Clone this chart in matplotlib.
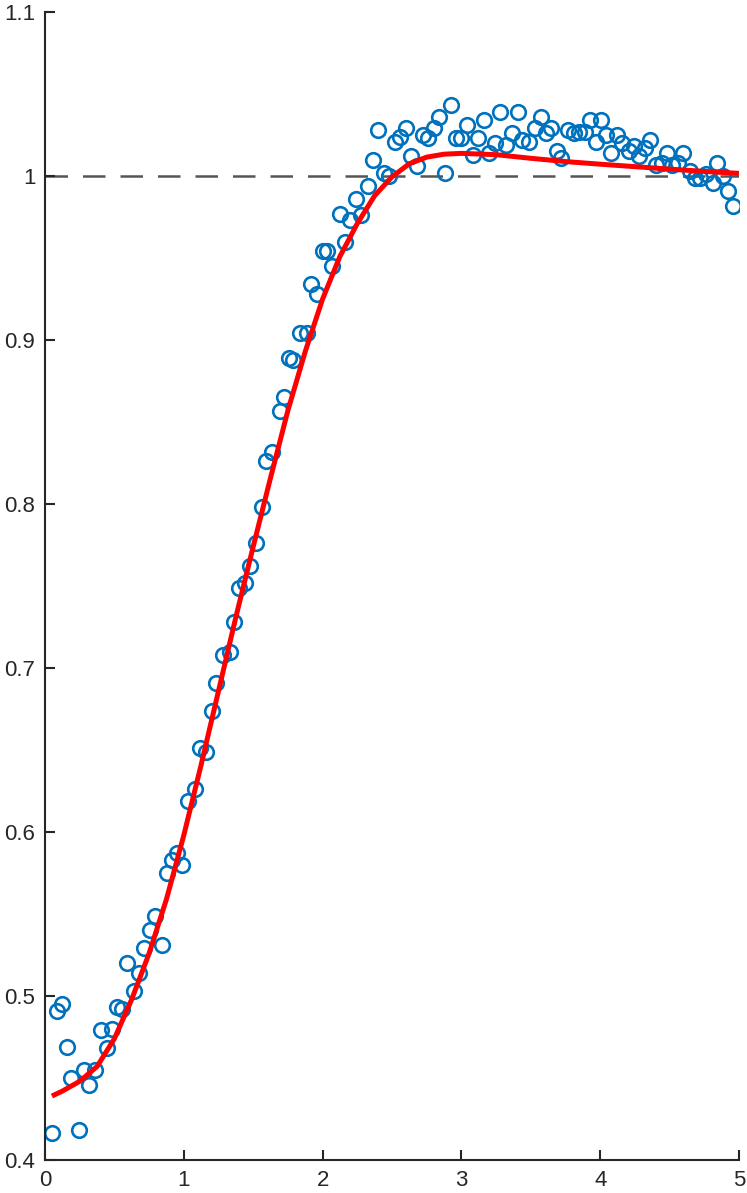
import matplotlib
matplotlib.use("Agg")
import matplotlib.pyplot as plt

# measured samples (open circles)
x_data = [0.05, 0.086, 0.12, 0.16, 0.19, 0.245, 0.28, 0.32, 0.36, 0.40,
          0.45, 0.48, 0.52, 0.555, 0.59, 0.64, 0.68, 0.71, 0.76, 0.79,
          0.84, 0.88, 0.915, 0.95, 0.99, 1.03, 1.08, 1.12, 1.16, 1.20,
          1.23, 1.28, 1.33, 1.36, 1.40, 1.44, 1.48, 1.52, 1.56, 1.59,
          1.635, 1.69, 1.72, 1.76, 1.79, 1.84, 1.89, 1.92, 1.96, 2.00,
          2.03, 2.07, 2.125, 2.16, 2.20, 2.24, 2.28, 2.33, 2.36, 2.40,
          2.44, 2.48, 2.52, 2.56, 2.60, 2.64, 2.68, 2.72, 2.76, 2.80,
          2.84, 2.88, 2.925, 2.96, 3.00, 3.04, 3.08, 3.12, 3.16, 3.20,
          3.24, 3.28, 3.32, 3.365, 3.41, 3.44, 3.49, 3.53, 3.57, 3.61,
          3.645, 3.69, 3.72, 3.77, 3.81, 3.85, 3.89, 3.93, 3.97, 4.005,
          4.04, 4.08, 4.12, 4.16, 4.21, 4.24, 4.28, 4.32, 4.36, 4.40,
          4.445, 4.48, 4.52, 4.56, 4.60, 4.65, 4.68, 4.72, 4.76, 4.81,
          4.84, 4.885, 4.92, 4.96]
y_data = [0.4165, 0.491, 0.495, 0.469, 0.450, 0.418, 0.455, 0.446, 0.455, 0.479,
          0.468, 0.480, 0.493, 0.492, 0.520, 0.503, 0.514, 0.529, 0.540, 0.549,
          0.531, 0.575, 0.583, 0.587, 0.580, 0.619, 0.626, 0.651, 0.649, 0.674,
          0.691, 0.708, 0.710, 0.728, 0.749, 0.752, 0.762, 0.776, 0.798, 0.826,
          0.832, 0.857, 0.865, 0.889, 0.888, 0.904, 0.904, 0.934, 0.928, 0.954,
          0.954, 0.945, 0.977, 0.960, 0.973, 0.986, 0.976, 0.994, 1.010, 1.028,
          1.002, 1.000, 1.021, 1.024, 1.029, 1.012, 1.006, 1.025, 1.023, 1.029,
          1.036, 1.002, 1.043, 1.023, 1.023, 1.031, 1.013, 1.023, 1.034, 1.014,
          1.020, 1.039, 1.019, 1.026, 1.039, 1.022, 1.021, 1.029, 1.036, 1.026,
          1.029, 1.015, 1.011, 1.028, 1.026, 1.027, 1.027, 1.034, 1.021, 1.034,
          1.025, 1.014, 1.025, 1.020, 1.015, 1.018, 1.012, 1.017, 1.022, 1.007,
          1.008, 1.014, 1.007, 1.008, 1.014, 1.003, 0.999, 0.999, 1.001, 0.996,
          1.008, 1.000, 0.991, 0.982]

# fitted response (red curve)
x_fit = [0.05, 0.125, 0.25, 0.375, 0.5, 0.625, 0.75, 0.875, 1.0, 1.125,
         1.25, 1.375, 1.5, 1.625, 1.75, 1.875, 2.0, 2.125, 2.25, 2.375,
         2.5, 2.625, 2.75, 2.875, 3.0, 3.25, 3.5, 3.75, 4.0, 4.25,
         4.5, 4.75, 5.0]
y_fit = [0.439, 0.442, 0.448, 0.457, 0.474, 0.498, 0.526, 0.559, 0.598, 0.641,
         0.686, 0.731, 0.774, 0.816, 0.857, 0.893, 0.925, 0.951, 0.971, 0.988,
         0.9995, 1.0075, 1.0115, 1.0133, 1.0138, 1.0130, 1.0108, 1.0088, 1.0072, 1.0057,
         1.0042, 1.0028, 1.0016]

x_ticks = [0, 1, 2, 3, 4, 5]
y_ticks = [0.4, 0.5, 0.6, 0.7, 0.8, 0.9, 1.0, 1.1]
y_tick_labels = ['0.4', '0.5', '0.6', '0.7', '0.8', '0.9', '1', '1.1']

plt.rcParams['font.family'] = ['Liberation Sans', 'DejaVu Sans']

fig = plt.figure(figsize=(7.47, 11.93), dpi=100)
ax = fig.add_axes([45 / 747, 33 / 1193, 694 / 747, 1148 / 1193])

ax.axhline(1.0, color='#555555', lw=1.8, dashes=(9, 6), zorder=1)
ax.plot(x_data, y_data, 'o', mfc='none', mec='#0072BD', ms=10.5, mew=1.9, zorder=2)
ax.plot(x_fit, y_fit, color='#ff0000', lw=3.6, zorder=3,
        solid_joinstyle='round', solid_capstyle='butt')

ax.set_xlim(0, 5)
ax.set_ylim(0.4, 1.1)
ax.set_xticks(x_ticks)
ax.set_yticks(y_ticks)
ax.set_yticklabels(y_tick_labels)
ax.spines['top'].set_visible(False)
ax.spines['right'].set_visible(False)
for s in ['left', 'bottom']:
    ax.spines[s].set_color('#262626')
    ax.spines[s].set_linewidth(1.5)
ax.tick_params(direction='in', length=7, width=1.5, colors='#262626',
               labelsize=16, pad=7)

fig.savefig('out.png', dpi=100)
